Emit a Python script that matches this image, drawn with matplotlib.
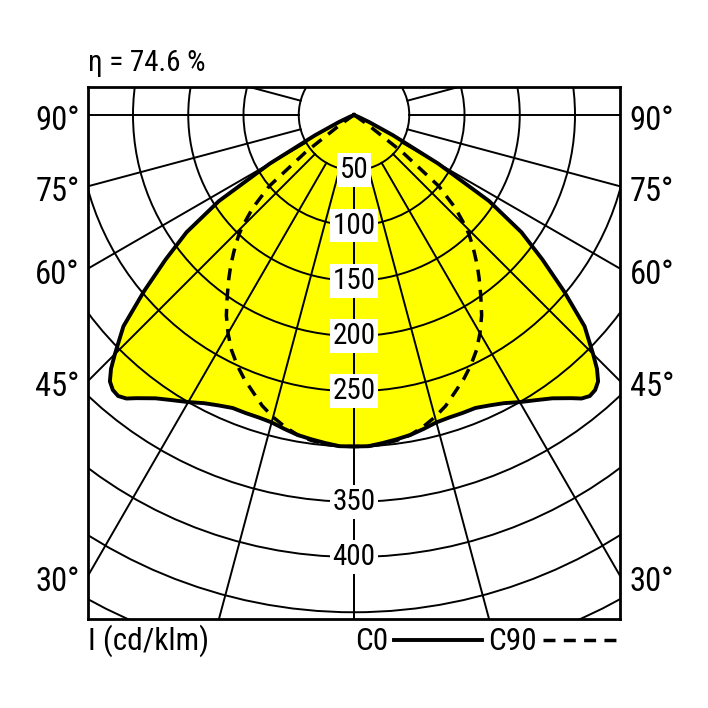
import numpy as np
import matplotlib
matplotlib.use('Agg')
import matplotlib.pyplot as plt
from matplotlib import font_manager as fm
from matplotlib.patches import Circle
from matplotlib.lines import Line2D

# luminous intensity (cd/klm) vs angle from nadir (deg)
gamma = [0, 2.5, 5, 7.5, 10, 12.5, 15, 17.5, 20, 22.5, 25, 27.5, 30, 32.5, 35,
         37.5, 38.75, 40, 41.25, 42.5, 43.75, 45, 47.5, 50, 52.5, 55, 57.5,
         60, 62.5, 65, 67.5, 70, 75, 80, 85, 90]
c0 = [300, 300, 298, 296, 294, 291, 288, 287, 287, 287, 290, 294, 300, 306, 313,
      323, 329, 332, 331, 327, 318, 306, 283, 248, 215, 185, 145,
      88, 40, 15, 4, 0, 0, 0, 0, 0]
c90 = [300, 300, 299, 297, 294, 289, 283, 276, 267, 259, 250, 240, 228, 215, 200,
       186, 179, 172, 165, 158, 151, 143, 124, 100, 55, 15, 2,
       0, 0, 0, 0, 0, 0, 0, 0, 0]

eta_text = 'η = 74.6 %'
ring_values = [50, 100, 150, 200, 250, 300, 350, 400, 450, 500]
ring_labels = [50, 100, 150, 200, 250, 350, 400]
spoke_angles = [0, 15, 30, 45, 60, 75, 90, 105]
side_labels = [30, 45, 60, 75, 90]

W = 708
px = 1.105            # pixels per cd/klm
xmax = 266 / px
ytop = 28 / px
ybot = -504 / px
DASH = (0, (3.45, 2.4))


def pick_font():
    # look for a narrow / condensed sans, else plain Liberation Sans
    prefs = ['Liberation Sans Narrow', 'Roboto Condensed', 'Noto Sans',
             'Open Sans', 'DejaVu Sans', 'Lato', 'Inter']
    cands = []
    for f in fm.fontManager.ttflist:
        st = str(f.stretch).lower()
        nm = f.name
        cond = ('condensed' in st or 'Narrow' in nm or 'Condensed' in nm)
        if not cond or f.style != 'normal' or 'Mono' in nm:
            continue
        if str(f.weight).lower() not in ('400', 'normal', 'regular', 'book'):
            continue
        if 'extra' in st or 'ultra' in st:
            continue
        cands.append(f)
    for p in prefs:
        for f in cands:
            if f.name.startswith(p):
                return f.fname
    if cands:
        return cands[0].fname
    return fm.findfont(fm.FontProperties(family='Liberation Sans'))


FONT = pick_font()


def fp(size):
    return fm.FontProperties(fname=FONT, size=size)


def to_xy(g, I, side=1):
    g = np.radians(np.asarray(g, dtype=float))
    I = np.asarray(I, dtype=float)
    return side * I * np.sin(g), -I * np.cos(g)


def full_curve(g, I):
    xl, yl = to_xy(g[::-1], I[::-1], -1)
    xr, yr = to_xy(g, I, 1)
    return np.concatenate([xl, xr]), np.concatenate([yl, yr])


fig = plt.figure(figsize=(W / 100, W / 100), dpi=100)
ax = fig.add_axes([88 / W, (W - 619) / W, 532 / W, 532 / W])
ax.set_xlim(-xmax, xmax)
ax.set_ylim(ybot, ytop)
ax.set_aspect('equal')
ax.set_xticks([])
ax.set_yticks([])
for sp in ax.spines.values():
    sp.set_linewidth(2.0)

# fill of C0
x0, y0 = full_curve(gamma, c0)
ax.fill(x0, y0, color='#ffff00', zorder=1, lw=0)

# grid
for r in ring_values:
    ax.add_patch(Circle((0, 0), r, fill=False, ec='black', lw=1.4, zorder=2))
for a in spoke_angles:
    for side in (-1, 1):
        xs, ys = to_xy([a, a], [50, 700], side)
        ax.plot(xs, ys, color='black', lw=1.4, zorder=2)

# curves
ax.plot(x0, y0, color='black', lw=2.8, zorder=3, solid_joinstyle='round')
x90, y90 = full_curve(gamma, c90)
ax.plot(x90, y90, color='black', lw=2.5, ls=DASH, zorder=3)

# ring labels
for r in ring_labels:
    ax.text(0, -r, str(r), ha='center', va='center', fontproperties=fp(21),
            zorder=5, bbox=dict(facecolor='white', edgecolor='none',
                                boxstyle='square,pad=0.1'))

# angle labels at box edges
for a in side_labels:
    yy = -xmax / np.tan(np.radians(a)) if a < 90 else 0.0
    ax.annotate(f'{a}°', xy=(-xmax, yy), xytext=(-6, -4.3),
                textcoords='offset points', ha='right', va='center',
                fontproperties=fp(23.5), annotation_clip=False)
    ax.annotate(f'{a}°', xy=(xmax, yy), xytext=(7, -4.3),
                textcoords='offset points', ha='left', va='center',
                fontproperties=fp(23.5), annotation_clip=False)

# texts around
fig.text(88 / W, 1 - 63 / W, eta_text, ha='left', va='center', fontproperties=fp(21))
fig.text(88 / W, 1 - 641 / W, 'I (cd/klm)', ha='left', va='center', fontproperties=fp(22.5))
fig.text(355 / W, 1 - 641 / W, 'C0', ha='left', va='center', fontproperties=fp(22.5))
fig.text(488 / W, 1 - 641 / W, 'C90', ha='left', va='center', fontproperties=fp(22.5))
fig.add_artist(Line2D([394 / W, 482 / W], [1 - 640 / W, 1 - 640 / W],
                      color='black', lw=2.8))
fig.add_artist(Line2D([543 / W, 616 / W], [1 - 640 / W, 1 - 640 / W],
                      color='black', lw=2.5, ls=DASH))

fig.savefig('out.png', dpi=100)
